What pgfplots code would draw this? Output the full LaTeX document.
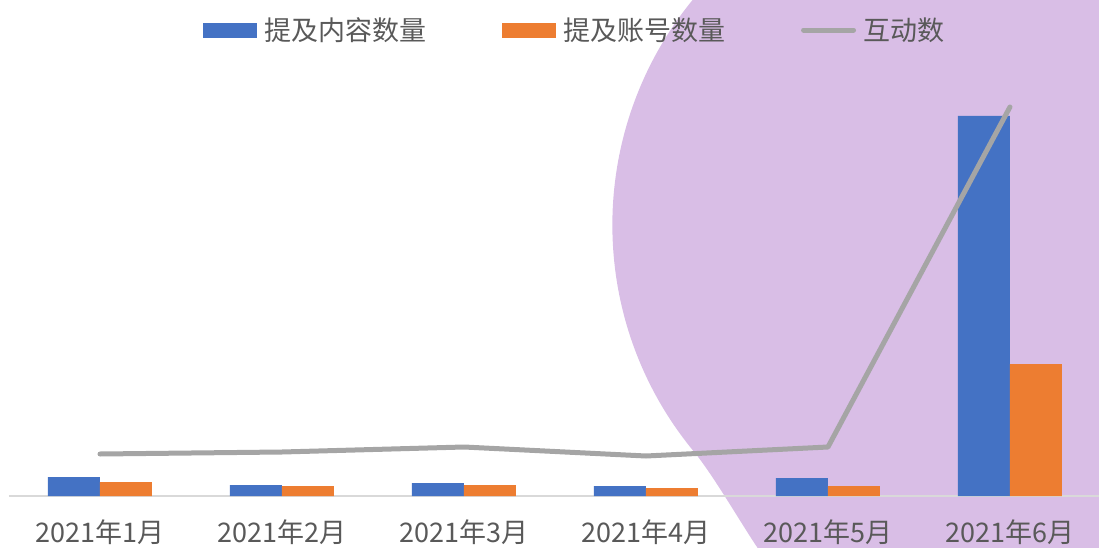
\documentclass[border=0pt]{standalone}
\usepackage{fontspec}
\setmainfont{Noto Sans CJK SC}
\usepackage{pgfplots}
\pgfplotsset{compat=1.18}
\definecolor{cblue}{HTML}{4472C4}
\definecolor{corange}{HTML}{ED7D31}
\definecolor{cgray}{HTML}{A5A5A5}
\definecolor{cpurple}{HTML}{D9BEE6}
\definecolor{ctext}{HTML}{595959}
\definecolor{caxis}{HTML}{D9D9D9}
\begin{document}
\begin{tikzpicture}
\useasboundingbox (0pt,0pt) rectangle (1099pt,547pt);
\begin{scope}[x=1pt,y=1pt]
\fill[cpurple] (703.7,560) arc[start angle=138, end angle=219.3, radius=355.7]
  .. controls (712,74) and (742,22) .. (757,0) -- (762,-8) -- (1110,-8) -- (1110,560) -- cycle;
\end{scope}
\begin{axis}[
  at={(9pt,51pt)}, anchor=south west,
  scale only axis, width=1092pt, height=496pt,
  xmin=-0.5, xmax=5.5, ymin=0, ymax=496,
  ybar, bar width=52pt,
  axis x line*=bottom, axis y line=none,
  x axis line style={draw=caxis, line width=1.5pt, -},
  xtick={0,1,2,3,4,5},
  xticklabels={2021年1月,2021年2月,2021年3月,2021年4月,2021年5月,2021年6月},
  major tick length=0pt,
  xticklabel style={font=\fontsize{27}{31}\selectfont, text=ctext, anchor=base, yshift=-46pt},
  legend columns=3,
  legend style={draw=none, fill=none, at={(0.517,0.9395)}, anchor=center,
    font=\fontsize{27}{31}\selectfont, text=ctext, inner sep=0pt,
    nodes={inner sep=0pt},
    /tikz/every odd column/.append style={column sep=7pt},
    /tikz/every even column/.append style={column sep=76pt}},
  clip=false,
]
\addplot[fill=cblue, draw=none, bar shift=-26pt,
  legend image code/.code={\fill[cblue] (0pt,-7.5pt) rectangle (54pt,7.5pt);}]
  coordinates {(0,19) (1,11) (2,13) (3,10) (4,18) (5,380)};
\addlegendentry{提及内容数量}
\addplot[fill=corange, draw=none, bar shift=26pt,
  legend image code/.code={\fill[corange] (0pt,-7.5pt) rectangle (54pt,7.5pt);}]
  coordinates {(0,14) (1,10) (2,11) (3,8) (4,10) (5,132)};
\addlegendentry{提及账号数量}
\addplot[sharp plot, draw=cgray, line width=5pt, line cap=round, line join=round,
  legend image code/.code={\draw[cgray, line width=5pt, line cap=round] (2.5pt,0pt) -- (52.5pt,0pt);}]
  coordinates {(0,42) (1,44) (2,49) (3,40) (4,49) (5,389)};
\addlegendentry{互动数}
\end{axis}
\end{tikzpicture}
\end{document}
